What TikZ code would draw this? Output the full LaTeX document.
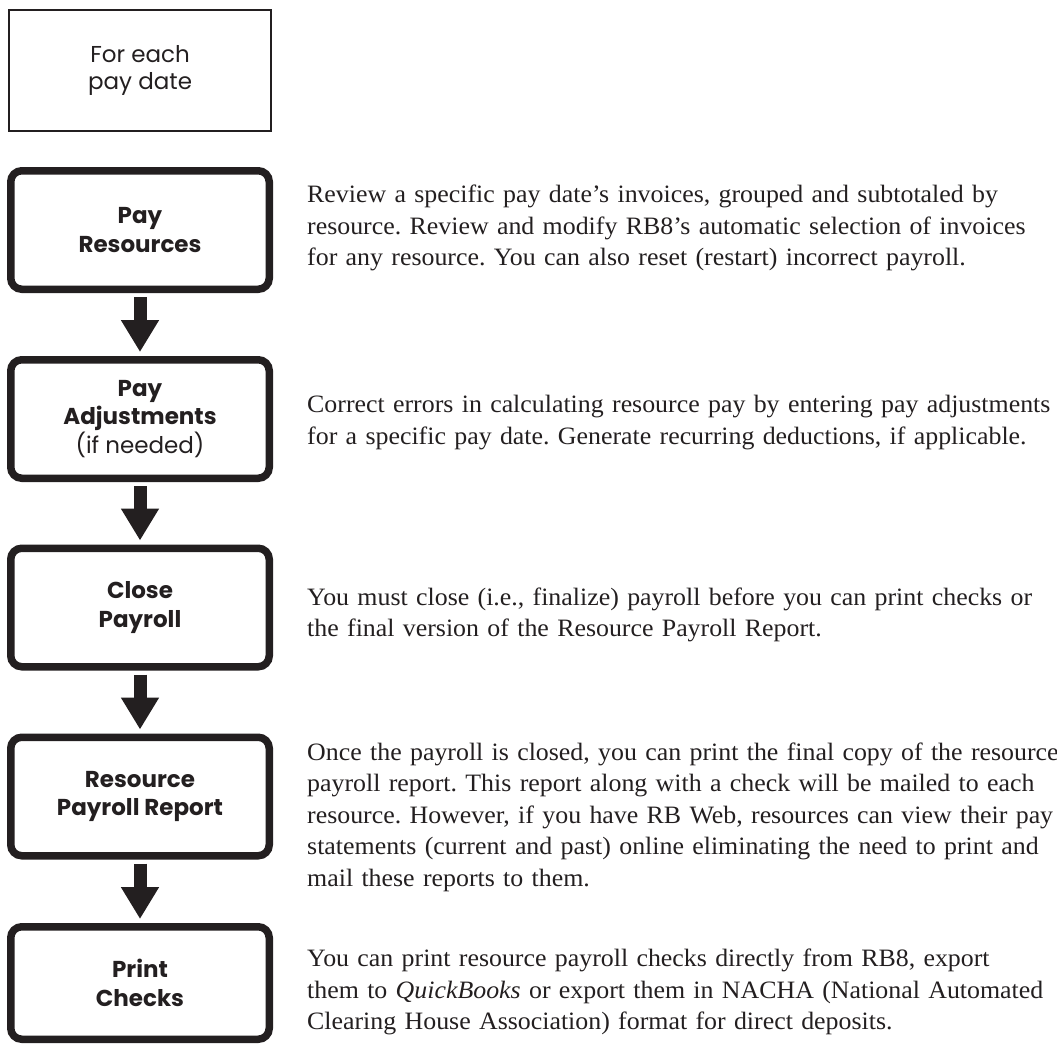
\documentclass[tikz,border=0pt]{standalone}
\usepackage{fontspec}
\usetikzlibrary{arrows.meta}
\newfontfamily\boxfont{Poppins}
\newfontfamily\descfont[FakeStretch=1.035]{Liberation Serif}
\definecolor{ink}{HTML}{231F20}
\tikzset{
  stepbox/.style={draw=ink, line width=7.5pt, rounded corners=11pt,
    minimum width=258.5pt, minimum height=118.5pt, inner sep=0pt,
    align=center, text=ink,
    font=\boxfont\fontsize{23pt}{28.5pt}\selectfont\bfseries},
  startbox/.style={draw=ink, line width=2pt, minimum width=261.8pt,
    minimum height=120.3pt, inner sep=0pt, align=center, text=ink,
    font=\boxfont\fontsize{23pt}{27.5pt}\selectfont},
  desc/.style={anchor=base west, inner sep=0pt, text width=760pt, align=left,
    text=ink, font=\descfont\fontsize{25pt}{31.6pt}\selectfont\frenchspacing},
  flowarrow/.style={draw=ink, line width=13pt,
    -{Triangle[length=32pt,width=36pt]}, shorten <=4pt, shorten >=4pt}
}
\begin{document}
\begin{tikzpicture}[x=1pt,y=-1pt]
\useasboundingbox (0,0) rectangle (1057,1044);
\node[startbox] (start) at (140.1,70.35) {For each\\pay date};
\node[stepbox] (b1) at (140,230) {Pay\\Resources};
\node[stepbox] (b2) at (140,419) {Pay\\Adjustments\\{\mdseries (if needed)}};
\node[stepbox] (b3) at (140,607.5) {Close\\Payroll};
\node[stepbox] (b4) at (140,796.5) {Resource\\Payroll Report};
\node[stepbox, minimum height=112.5pt] (b5) at (140,983) {Print\\Checks};
\draw[flowarrow] (b1) -- (b2);
\draw[flowarrow] (b2) -- (b3);
\draw[flowarrow] (b3) -- (b4);
\draw[flowarrow] (b4) -- (b5);
\node[desc] (d1) at (307,202.7) {Review a specific pay date’s invoices, grouped and subtotaled by\\resource. Review and modify RB8’s automatic selection of invoices\\for any resource. You can also reset (restart) incorrect payroll.};
\node[desc] (d2) at (307,412.5) {Correct errors in calculating resource pay by entering pay adjustments\\for a specific pay date. Generate recurring deductions, if applicable.};
\node[desc] (d3) at (307,605) {You must close (i.e., finalize) payroll before you can print checks or\\the final version of the Resource Payroll Report.};
\node[desc] (d4) at (307,760) {Once the payroll is closed, you can print the final copy of the resource\\payroll report. This report along with a check will be mailed to each\\resource. However, if you have RB Web, resources can view their pay\\statements (current and past) online eliminating the need to print and\\mail these reports to them.};
\node[desc] (d5) at (307,966.7) {You can print resource payroll checks directly from RB8, export\\them to \textit{QuickBooks} or export them in NACHA (National Automated\\Clearing House Association) format for direct deposits.};
\end{tikzpicture}
\end{document}
